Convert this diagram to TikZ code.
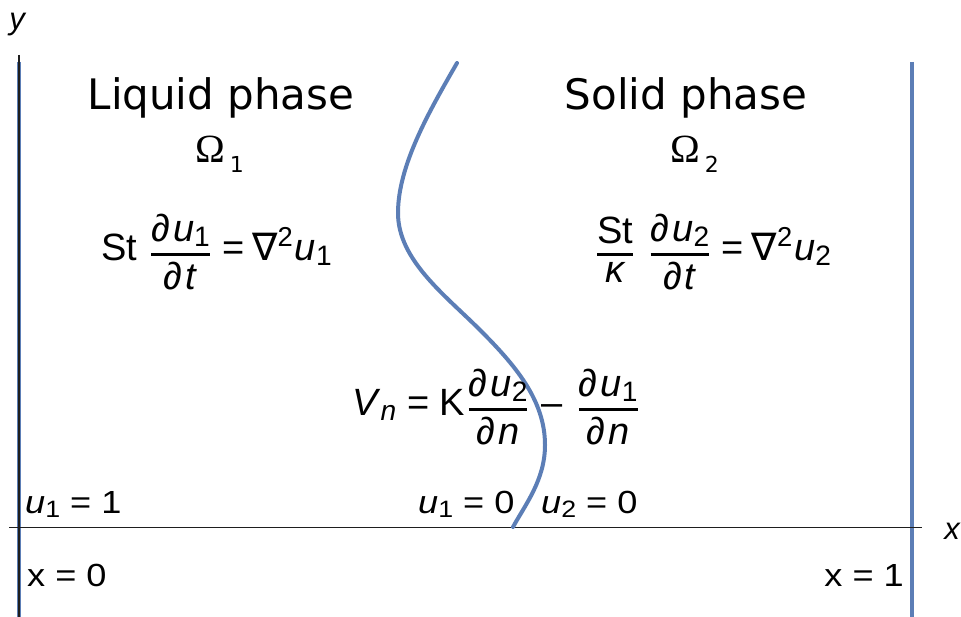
\documentclass[tikz,border=0pt]{standalone}
\usepackage{amsmath}
\usepackage{graphicx}
\usepackage{fontspec}
\setmainfont{Liberation Sans}
\newfontfamily\vfont{DejaVu Sans}
\newfontfamily\tfont{Liberation Serif}
\newfontfamily\nfont{DejaVu Sans}
\definecolor{curvecol}{RGB}{92,126,182}
\definecolor{axiscol}{RGB}{30,30,30}
\newcommand\sbs[1]{\raisebox{-0.14em}{\upshape\fontsize{0.74em}{0.74em}\selectfont #1}}
\newcommand\sps[1]{\raisebox{0.36em}{\upshape\fontsize{0.72em}{0.72em}\selectfont #1}}
\newcommand\fracx[2]{$\genfrac{}{}{2.2pt}{0}{\hbox{#1\vphantom{\itshape u}}}{\hbox{#2}}$}
\newcommand\nab{{\nfont ∇}}
\newcommand\pd{{\itshape ∂}\hspace{3pt}}
\tikzset{
  phase/.style={inner sep=0pt, font=\vfont\fontsize{42}{50}\selectfont},
  omega/.style={inner sep=0pt, font=\tfont\fontsize{40}{44}\selectfont},
  eqn/.style={inner sep=0pt, font=\fontsize{38}{44}\selectfont},
  lbl/.style={inner sep=0pt, font=\fontsize{32}{40}\selectfont},
  axlbl/.style={inner sep=0pt, font=\itshape\fontsize{31}{36}\selectfont},
  wall/.style={draw=curvecol, line width=4pt},
  thinax/.style={draw=axiscol, line width=1.2pt}
}
\newcommand\omsub[1]{\raisebox{-10pt}{\vfont\fontsize{22}{22}\selectfont #1}}
\newcommand\sx[1]{\scalebox{1.13}[1]{#1}}
\begin{document}
\begin{tikzpicture}[x=1pt,y=-1pt]
\useasboundingbox[fill=white] (0,0) rectangle (961,617);
% coordinates
\coordinate (ltop) at (19,62);
\coordinate (lbot) at (19,617);
\coordinate (ytop) at (19,55);
\coordinate (rtop) at (912,62);
\coordinate (rbot) at (912,617);
\coordinate (xl) at (9,527);
\coordinate (xr) at (922,527);
\coordinate (c0) at (457,63);
\coordinate (c1) at (398,213);
\coordinate (c2) at (480,330);
\coordinate (c3) at (545,445);
\coordinate (c4) at (513,527);
% walls and axes
\draw[wall] (ltop) -- (lbot);
\draw[thinax] (ytop) -- (lbot);
\draw[wall] (rtop) -- (rbot);
\draw[draw=axiscol, line width=1pt] (xl) -- (xr);
% interface
\draw[curvecol, line width=4pt, line cap=round]
  (c0) .. controls (430,110) and (398,165) .. (c1)
       .. controls (398,260) and (445,295) .. (c2)
       .. controls (515,365) and (545,400) .. (c3)
       .. controls (545,480) and (525,505) .. (c4);
% axis labels
\node[axlbl] (ylab) at (17,25) {y};
\node[axlbl] (xlab) at (952,531) {x};
% phase labels
\node[phase] (liq) at (221,98) {Liquid phase};
\node[phase] (sol) at (686,98) {Solid phase};
\node[omega, anchor=base west] (om1) at (195,163) {Ω\hspace{5pt}\omsub{1}};
\node[omega, anchor=base west] (om2) at (670,163) {Ω\hspace{5pt}\omsub{2}};
% equations
\node[eqn, anchor=west] (eq1) at (101,252) {St\hspace{13pt}\fracx{\pd\textit{u}\sbs{1}}{\pd\textit{t}}\hspace{11pt}=\hspace{8pt}\nab\sps{2}\hspace{2pt}\textit{u}\sbs{1}};
\node[eqn, anchor=west] (eq2) at (596,252) {\fracx{St}{\itshape κ}\hspace{15pt}\fracx{\pd\textit{u}\sbs{2}}{\pd\textit{t}}\hspace{11pt}=\hspace{8pt}\nab\sps{2}\hspace{2pt}\textit{u}\sbs{2}};
\node[eqn, anchor=west] (eq3) at (352,407) {\textit{V}\sbs{\itshape n}\hspace{11pt}=\hspace{10pt}K\hspace{3pt}\fracx{\pd\textit{u}\sbs{2}}{\pd\textit{n}}\hspace{13pt}–\hspace{15pt}\fracx{\pd\textit{u}\sbs{1}}{\pd\textit{n}}};
% boundary conditions
\node[lbl, anchor=base west] (bc1) at (25,513) {\sx{\textit{u}\sbs{1} = 1}};
\node[lbl, anchor=base west] (bc2) at (418,513) {\sx{\textit{u}\sbs{1} = 0}};
\node[lbl, anchor=base west] (bc3) at (541,513) {\sx{\textit{u}\sbs{2} = 0}};
\node[lbl, anchor=base west] (x0) at (27,586) {\sx{x = 0}};
\node[lbl, anchor=base east] (x1) at (904,586) {\sx{x = 1}};
\end{tikzpicture}
\end{document}
